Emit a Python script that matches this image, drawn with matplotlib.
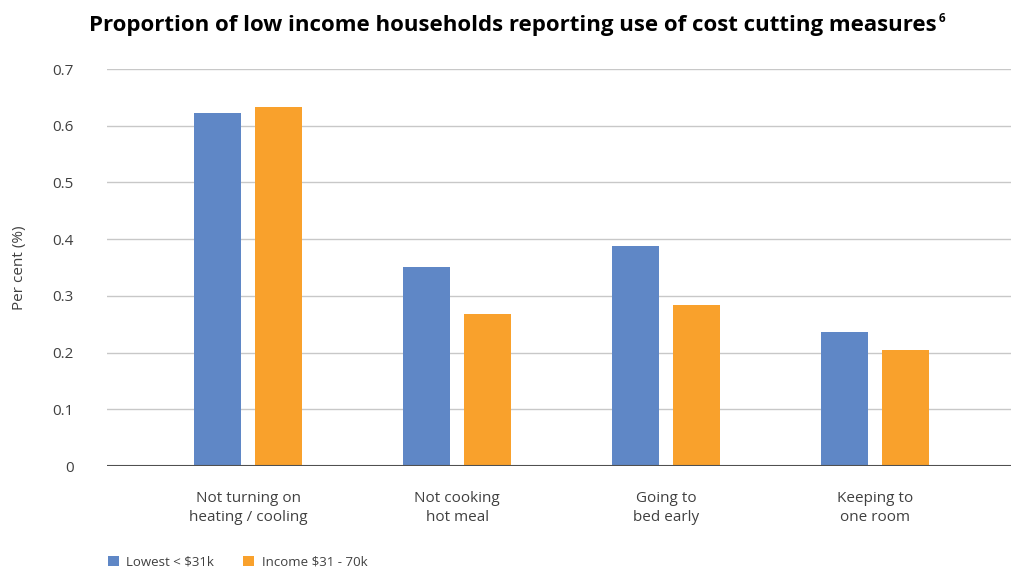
import matplotlib.pyplot as plt
import numpy as np

categories = ["Not turning on\nheating / cooling", "Not cooking\nhot meal",
              "Going to\nbed early", "Keeping to\none room"]
lowest = [0.623, 0.351, 0.388, 0.236]
income = [0.633, 0.268, 0.284, 0.205]
series_names = ["Lowest < \\$31k", "Income \\$31 - 70k"]

blue = "#5f87c6"
orange = "#f9a12c"

plt.rcParams['font.family'] = ['Open Sans', 'DejaVu Sans']

fig = plt.figure(figsize=(10.12, 5.69), dpi=100)
ax = fig.add_axes([0.1057, 0.181, 0.8943, 0.6977])

x = np.arange(len(categories))
w = 0.225
off = 0.146
ax.bar(x - off, lowest, w, color=blue, label=series_names[0], zorder=3)
ax.bar(x + off, income, w, color=orange, label=series_names[1], zorder=3)

ax.set_xlim(-0.675, 3.655)
ax.set_ylim(0, 0.7)
ax.set_yticks(np.arange(0, 0.71, 0.1))
ax.set_yticklabels(["0", "0.1", "0.2", "0.3", "0.4", "0.5", "0.6", "0.7"])
ax.yaxis.grid(True, color="#c8c8c8", linewidth=1)
ax.set_axisbelow(True)
for s in ax.spines.values():
    s.set_visible(False)
ax.axhline(0, color="#505050", linewidth=1.5, zorder=4)
ax.tick_params(axis="y", length=0, pad=24, labelsize=11, labelcolor="#404040")
ax.tick_params(axis="x", length=0, pad=18, labelsize=11, labelcolor="#404040")
ax.set_xticks(x)
ax.set_xticklabels(categories, linespacing=1.4)
ax.set_ylabel("Per cent (%)", fontsize=11, color="#404040", labelpad=18)

title = fig.text(0.507, 0.955, "Proportion of low income households reporting use of cost cutting measures",
                 ha="center", va="center", fontsize=16, fontweight="bold", color="black")
ax.annotate("6", xy=(1.0, 0.85), xycoords=title, xytext=(1, 0), textcoords="offset points",
            ha="left", va="center", fontsize=8.5, fontweight="bold", color="black")

fig.legend(loc="lower left", bbox_to_anchor=(0.095, -0.02), ncol=2, frameon=False,
           fontsize=9.5, handlelength=0.8, handleheight=0.8, columnspacing=2.2,
           handletextpad=0.6, labelcolor="#404040")

fig.savefig("out.png", dpi=100)
